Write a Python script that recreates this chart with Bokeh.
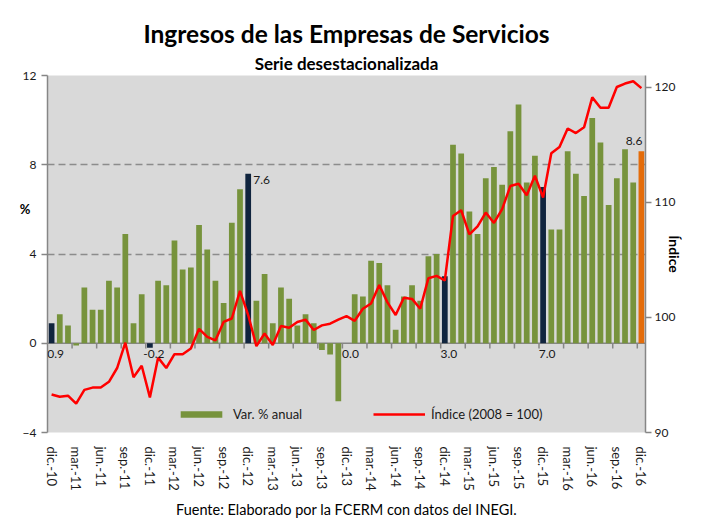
import math
from bokeh.plotting import figure
from bokeh.models import (ColumnDataSource, Range1d, LinearAxis, FixedTicker, Span,
                          Label, LabelSet, Legend, LegendItem, Title)
from bokeh.core.properties import value
from bokeh.embed import file_html
from bokeh.resources import INLINE

FONT = "Lato"

# ---------------- data ----------------
tick_labels = ["dic.-10", "mar.-11", "jun.-11", "sep.-11", "dic.-11", "mar.-12", "jun.-12",
               "sep.-12", "dic.-12", "mar.-13", "jun.-13", "sep.-13", "dic.-13", "mar.-14",
               "jun.-14", "sep.-14", "dic.-14", "mar.-15", "jun.-15", "sep.-15", "dic.-15",
               "mar.-16", "jun.-16", "sep.-16", "dic.-16"]

var_pct = [0.9, 1.3, 0.8, -0.1, 2.5, 1.5, 1.5, 2.8, 2.5, 4.9,
           0.9, 2.2, -0.2, 2.8, 2.6, 4.6, 3.3, 3.4, 5.3, 4.2,
           2.8, 1.8, 5.4, 6.9, 7.6, 1.9, 3.1, 0.9, 2.5, 2.0,
           0.8, 1.3, 0.9, -0.3, -0.5, -2.6, 0.0, 2.2, 2.1, 3.7,
           3.6, 2.6, 0.6, 2.1, 2.6, 1.9, 3.9, 4.0, 3.0, 8.9,
           8.5, 5.9, 4.9, 7.4, 7.9, 7.1, 9.5, 10.7, 7.2, 8.4,
           7.0, 5.1, 5.1, 8.6, 7.6, 6.6, 10.1, 9.0, 6.2, 7.4,
           8.7, 7.2, 8.6]

indice = [93.3, 93.1, 93.2, 92.5, 93.7, 93.9, 93.9, 94.4, 95.6, 97.8,
          94.8, 95.8, 93.05, 96.5, 95.6, 96.8, 96.8, 97.3, 99.0, 98.3,
          98.0, 99.6, 99.9, 102.3, 100.2, 97.5, 98.6, 97.6, 99.25, 99.1,
          99.6, 99.8, 98.9, 99.3, 99.45, 99.8, 100.1, 99.7, 100.75, 101.2,
          102.8, 101.3, 100.2, 101.7, 101.6, 100.75, 103.4, 103.6, 103.2, 108.8,
          109.3, 107.2, 107.9, 109.1, 108.2, 109.4, 111.4, 111.6, 110.6, 112.3,
          110.4, 114.25, 114.8, 116.4, 116.0, 116.5, 119.1, 118.2, 118.2, 120.0,
          120.3, 120.5, 119.9]

pct_ticks = [-4, 0, 4, 8, 12]
idx_ticks = [90, 100, 110, 120]

# ---------------- styling ----------------
GREEN = "#77933C"
NAVY = "#10243E"
ORANGE = "#E46C0A"
AXIS_GRAY = "#868686"
TXT = "#1a1a1a"

n = len(var_pct)
xs = list(range(1, n + 1))
colors = []
for i in range(n):
    if i == n - 1:
        colors.append(ORANGE)
    elif i % 12 == 0:
        colors.append(NAVY)
    else:
        colors.append(GREEN)

p = figure(width=700, height=522, x_range=Range1d(0.5, n + 0.5), y_range=Range1d(-4, 12),
           output_backend="svg", toolbar_location=None,
           min_border_left=47, min_border_right=55, min_border_top=75, min_border_bottom=87)
p.background_fill_color = "#D9D9D9"
p.border_fill_color = "white"
p.outline_line_color = None
p.extra_y_ranges = {"idx": Range1d(90, 121)}

# left axis
ya = p.yaxis[0]
ya.ticker = FixedTicker(ticks=pct_ticks)
ya.axis_line_color = AXIS_GRAY
ya.axis_line_width = 1.5
ya.major_tick_line_color = AXIS_GRAY
ya.major_tick_line_width = 1.5
ya.major_tick_out = 6
ya.major_tick_in = 0
ya.minor_tick_line_color = None
ya.major_label_standoff = 5
ya.major_label_text_font = FONT
ya.major_label_text_font_size = "12px"
ya.major_label_text_color = TXT

# "%" unit marker, pulled back next to the tick labels
ya2 = LinearAxis(ticker=FixedTicker(ticks=[6]))
ya2.major_label_overrides = {6: "%"}
ya2.axis_line_color = None
ya2.major_tick_line_color = None
ya2.minor_tick_line_color = None
ya2.major_tick_out = 0
ya2.major_label_standoff = -11
ya2.major_label_text_font = FONT
ya2.major_label_text_font_size = "13px"
ya2.major_label_text_font_style = "bold"
ya2.major_label_text_color = "black"
p.add_layout(ya2, "left")

# bottom axis (month labels)
xa = p.xaxis[0]
xa.ticker = FixedTicker(ticks=xs[::3])
xa.major_label_overrides = {xs[::3][k]: lab for k, lab in enumerate(tick_labels)}
xa.major_label_orientation = "vertical"
xa.axis_line_color = None
xa.major_tick_line_color = None
xa.minor_tick_line_color = None
xa.major_label_standoff = 8
xa.major_label_text_font = FONT
xa.major_label_text_font_size = "13px"
xa.major_label_text_color = TXT

# grid
p.xgrid.visible = False
p.ygrid.ticker = FixedTicker(ticks=[-4, 4, 8, 12])
p.ygrid.grid_line_color = "#8C8C8C"
p.ygrid.grid_line_dash = "7 4"
p.ygrid.grid_line_width = 1.5

# right axis
ra = LinearAxis(y_range_name="idx", ticker=FixedTicker(ticks=idx_ticks))
ra.axis_line_color = AXIS_GRAY
ra.axis_line_width = 1.5
ra.major_tick_line_color = AXIS_GRAY
ra.major_tick_line_width = 1.5
ra.major_tick_out = 6
ra.major_tick_in = 0
ra.minor_tick_line_color = None
ra.major_label_standoff = 3
ra.major_label_text_font = FONT
ra.major_label_text_font_size = "12px"
ra.major_label_text_color = TXT
ra.axis_label = "Índice"
ra.axis_label_orientation = "vertical"
ra.axis_label_standoff = -12
ra.axis_label_text_font = FONT
ra.axis_label_text_font_size = "14px"
ra.axis_label_text_font_style = "bold"
ra.axis_label_text_color = "black"
p.add_layout(ra, "right")

# zero (category) axis line with tick marks between every third category
p.add_layout(Span(location=0, dimension="width", line_color=AXIS_GRAY, line_width=1.5,
                  level="underlay"))
tick_x = [k + 0.5 for k in range(3, n, 3)]
p.segment(x0=tick_x, y0=[0] * len(tick_x), x1=tick_x, y1=[-0.24] * len(tick_x),
          line_color=AXIS_GRAY, line_width=1.5)

# bars & line
src = ColumnDataSource(dict(x=xs, v=var_pct, c=colors))
bars = p.vbar(x="x", top="v", bottom=0, width=0.7, fill_color="c", line_color=None, source=src)
ln = p.line(xs, indice, y_range_name="idx", line_color="#FF0000", line_width=2.5)

# legends
def mk_legend(item, loc):
    lg = Legend(items=[item], location=loc, orientation="horizontal", padding=0, margin=0,
                border_line_color=None, background_fill_alpha=0, glyph_width=52,
                glyph_height=8, label_height=8, label_standoff=6, label_text_font=FONT,
                label_text_font_size="13px", label_text_color=TXT)
    p.add_layout(lg)

mk_legend(LegendItem(label="Var. % anual", renderers=[bars], index=1), (128, 10))
mk_legend(LegendItem(label="Índice (2008 = 100)", renderers=[ln]), (326, 10))

# data labels
dec_ids = list(range(0, n, 12))
base_ids = [i for i in dec_ids if i not in (24, n - 1)]
base_src = ColumnDataSource(dict(x=[xs[i] for i in base_ids], y=[0] * len(base_ids),
                                 t=[f"{var_pct[i]:.1f}" for i in base_ids]))
p.add_layout(LabelSet(x="x", y="y", text="t", source=base_src, x_offset=4, y_offset=-11,
                      text_align="center", text_baseline="middle", text_font=value(FONT),
                      text_font_size=value("12px"), text_color=TXT))
p.add_layout(Label(x=xs[24], y=var_pct[24], text=f"{var_pct[24]:.1f}", x_offset=5, y_offset=-6,
                   text_align="left", text_baseline="middle", text_font=FONT,
                   text_font_size="12px", text_color=TXT))
p.add_layout(Label(x=xs[n - 1], y=var_pct[n - 1], text=f"{var_pct[n - 1]:.1f}", x_offset=1,
                   y_offset=6, text_align="right", text_baseline="bottom", text_font=FONT,
                   text_font_size="12px", text_color=TXT))

# titles and footer
p.title.visible = False
p.add_layout(Title(text="Serie desestacionalizada", align="center", text_font=FONT,
                   text_font_size="17px", text_font_style="bold", text_color="black",
                   standoff=3), "above")
p.add_layout(Title(text="Ingresos de las Empresas de Servicios", align="center",
                   text_font=FONT, text_font_size="24.5px", text_font_style="bold",
                   text_color="black", standoff=3), "above")
p.add_layout(Title(text="Fuente: Elaborado por la FCERM con datos del INEGI.", align="center",
                   text_font=FONT, text_font_size="14.5px", text_font_style="normal",
                   text_color="black", offset=7, standoff=10), "below")

open("out.html", "w").write(file_html(p, INLINE))
